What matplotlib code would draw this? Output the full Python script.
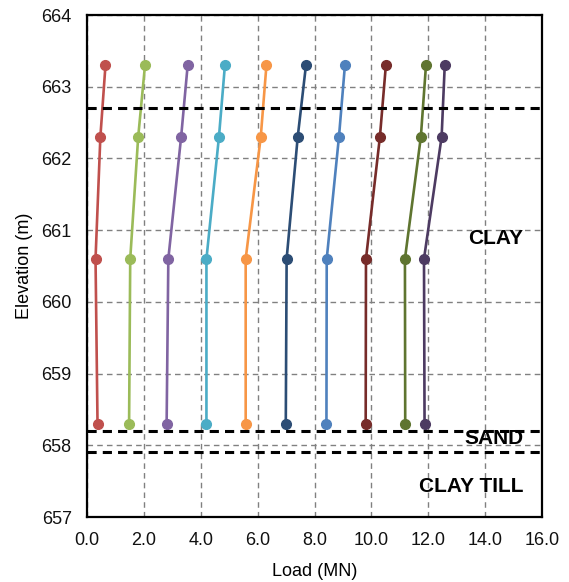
import matplotlib
matplotlib.use('Agg')
import matplotlib.pyplot as plt

plt.rcParams['font.family'] = ['Liberation Sans', 'DejaVu Sans']

elevation = [663.3, 662.3, 660.6, 658.3]

loads = [
    [0.65, 0.47, 0.30, 0.37],
    [2.04, 1.80, 1.52, 1.48],
    [3.54, 3.31, 2.86, 2.80],
    [4.85, 4.64, 4.20, 4.20],
    [6.31, 6.11, 5.58, 5.58],
    [7.70, 7.41, 7.02, 6.99],
    [9.07, 8.86, 8.43, 8.42],
    [10.51, 10.30, 9.81, 9.80],
    [11.92, 11.74, 11.18, 11.19],
    [12.58, 12.47, 11.85, 11.87],
]
colors = ['#C0504D', '#9BBB59', '#8064A2', '#4BACC6', '#F79646',
          '#2C4D75', '#4F81BD', '#772C2A', '#5F7530', '#4D3B62']

layer_bounds = [662.7, 658.2, 657.9]
layer_names = ['CLAY', 'SAND', 'CLAY TILL']
layer_label_y = [660.88, 658.1, 657.42]

fig = plt.figure(figsize=(5.69, 5.82), dpi=100)
ax = fig.add_axes([87 / 569, 1 - 517 / 582, 455 / 569, 502 / 582])

for xs, c in zip(loads, colors):
    ax.plot(xs, elevation, '-o', color=c, lw=1.9, ms=7, zorder=3)

for b in layer_bounds:
    ax.axhline(b, color='black', lw=2.2, ls=(0, (3, 2)), zorder=4)

for name, y in zip(layer_names, layer_label_y):
    ax.text(15.35, y, name, ha='right', va='center', fontsize=15,
            fontweight='bold', zorder=5)

ax.set_xlim(0, 16)
ax.set_ylim(657, 664)
ax.set_xticks(range(0, 17, 2))
ax.set_xticklabels(['%.1f' % v for v in range(0, 17, 2)])
ax.set_yticks(range(657, 665))
ax.grid(True, color='#808080', ls=(0, (4, 3)), lw=1)
ax.set_axisbelow(True)
ax.tick_params(length=0, labelsize=13, pad=11, colors='#111111')
for s in ax.spines.values():
    s.set_linewidth(1.6)
ax.set_xlabel('Load (MN)', fontsize=13, labelpad=10)
ax.set_ylabel('Elevation (m)', fontsize=13, labelpad=6)

fig.savefig('out.png', dpi=100)
